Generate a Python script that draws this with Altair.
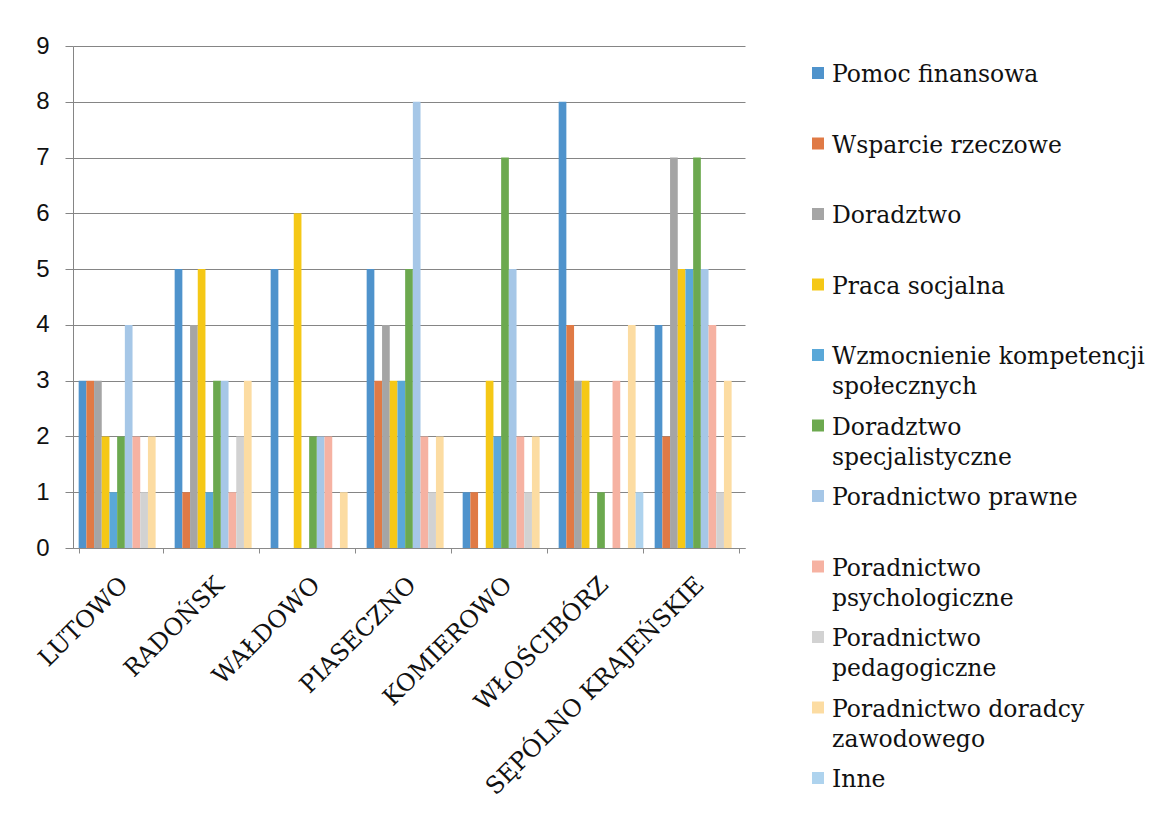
import altair as alt
import pandas as pd

categories = ["LUTOWO", "RADOŃSK", "WAŁDOWO", "PIASECZNO", "KOMIEROWO", "WŁOŚCIBÓRZ", "SĘPÓLNO KRAJEŃSKIE"]

series_names = [
    "Pomoc finansowa",
    "Wsparcie rzeczowe",
    "Doradztwo",
    "Praca socjalna",
    "Wzmocnienie kompetencji społecznych",
    "Doradztwo specjalistyczne",
    "Poradnictwo prawne",
    "Poradnictwo psychologiczne",
    "Poradnictwo pedagogiczne",
    "Poradnictwo doradcy zawodowego",
    "Inne",
]

legend_labels = [
    "Pomoc finansowa",
    "Wsparcie rzeczowe",
    "Doradztwo",
    "Praca socjalna",
    "Wzmocnienie kompetencji\nspołecznych",
    "Doradztwo\nspecjalistyczne",
    "Poradnictwo prawne",
    "Poradnictwo\npsychologiczne",
    "Poradnictwo\npedagogiczne",
    "Poradnictwo doradcy\nzawodowego",
    "Inne",
]

pomoc_finansowa = [3, 5, 5, 5, 1, 8, 4]
wsparcie_rzeczowe = [3, 1, 0, 3, 1, 4, 2]
doradztwo = [3, 4, 0, 4, 0, 3, 7]
praca_socjalna = [2, 5, 6, 3, 3, 3, 5]
wzmocnienie = [1, 1, 0, 3, 2, 0, 5]
doradztwo_spec = [2, 3, 2, 5, 7, 1, 7]
poradnictwo_prawne = [4, 3, 2, 8, 5, 0, 5]
poradnictwo_psych = [2, 1, 2, 2, 2, 3, 4]
poradnictwo_ped = [1, 2, 0, 1, 1, 0, 1]
poradnictwo_zaw = [2, 3, 1, 2, 2, 4, 3]
inne = [0, 0, 0, 0, 0, 1, 0]

all_values = [pomoc_finansowa, wsparcie_rzeczowe, doradztwo, praca_socjalna, wzmocnienie,
              doradztwo_spec, poradnictwo_prawne, poradnictwo_psych, poradnictwo_ped,
              poradnictwo_zaw, inne]

colors = ["#4F93CC", "#E07A45", "#A5A5A5", "#F5C816", "#5AA8D8", "#6CA94F",
          "#A6C7E7", "#F6B2A2", "#D2D2D2", "#FCDCA2", "#AED3EE"]

rows = []
for s, vals in zip(series_names, all_values):
    for c, v in zip(categories, vals):
        rows.append({"cat": c, "series": s, "value": v})
df = pd.DataFrame(rows)

legend_df = pd.DataFrame({"series": series_names, "label": legend_labels})

color = alt.Color("series:N", sort=series_names,
                  scale=alt.Scale(domain=series_names, range=colors), legend=None)

bars = alt.Chart(df).mark_bar(opacity=1).encode(
    x=alt.X("cat:N", sort=categories, title=None,
            scale=alt.Scale(paddingInner=0.118, paddingOuter=0.059),
            axis=alt.Axis(labelAngle=-45, labelAlign="right", labelBaseline="middle",
                          labelFont="DejaVu Serif", labelFontSize=24, labelColor="#111111",
                          labelPadding=28, labelOffset=3, tickBand="extent", tickSize=5,
                          tickColor="#8a8a8a", domainColor="#8a8a8a", grid=False,
                          labelLimit=400)),
    xOffset=alt.XOffset("series:N", sort=series_names,
                        scale=alt.Scale(paddingInner=0, paddingOuter=0)),
    y=alt.Y("value:Q", title=None, scale=alt.Scale(domain=[0, 9], nice=False),
            axis=alt.Axis(values=list(range(10)), grid=True, gridColor="#858585",
                          tickSize=8, tickColor="#858585", domainColor="#858585",
                          labelFont="Liberation Sans", labelFontSize=24,
                          labelColor="#111111", labelPadding=16)),
    color=color,
).properties(width=672, height=502)

leg_base = alt.Chart(legend_df).encode(
    y=alt.Y("series:N", sort=series_names, axis=None,
            scale=alt.Scale(range=[27, 732], padding=0)),
)
leg_sq = leg_base.mark_square(size=144, opacity=1).encode(color=color)
leg_txt = leg_base.mark_text(align="left", baseline="top", dx=14, dy=-10,
                             font="DejaVu Serif", fontSize=23.5, lineHeight=30,
                             lineBreak="\n", color="#111111").encode(text="label:N")
legend = alt.layer(leg_sq, leg_txt).properties(width=12, height=740)

chart = alt.hconcat(bars, legend, spacing=67).properties(
    padding={"left": 26, "top": 26, "right": 0, "bottom": 0}
).configure_view(strokeWidth=0)

chart.save("out.html", embed_options={"renderer": "svg", "actions": False})
